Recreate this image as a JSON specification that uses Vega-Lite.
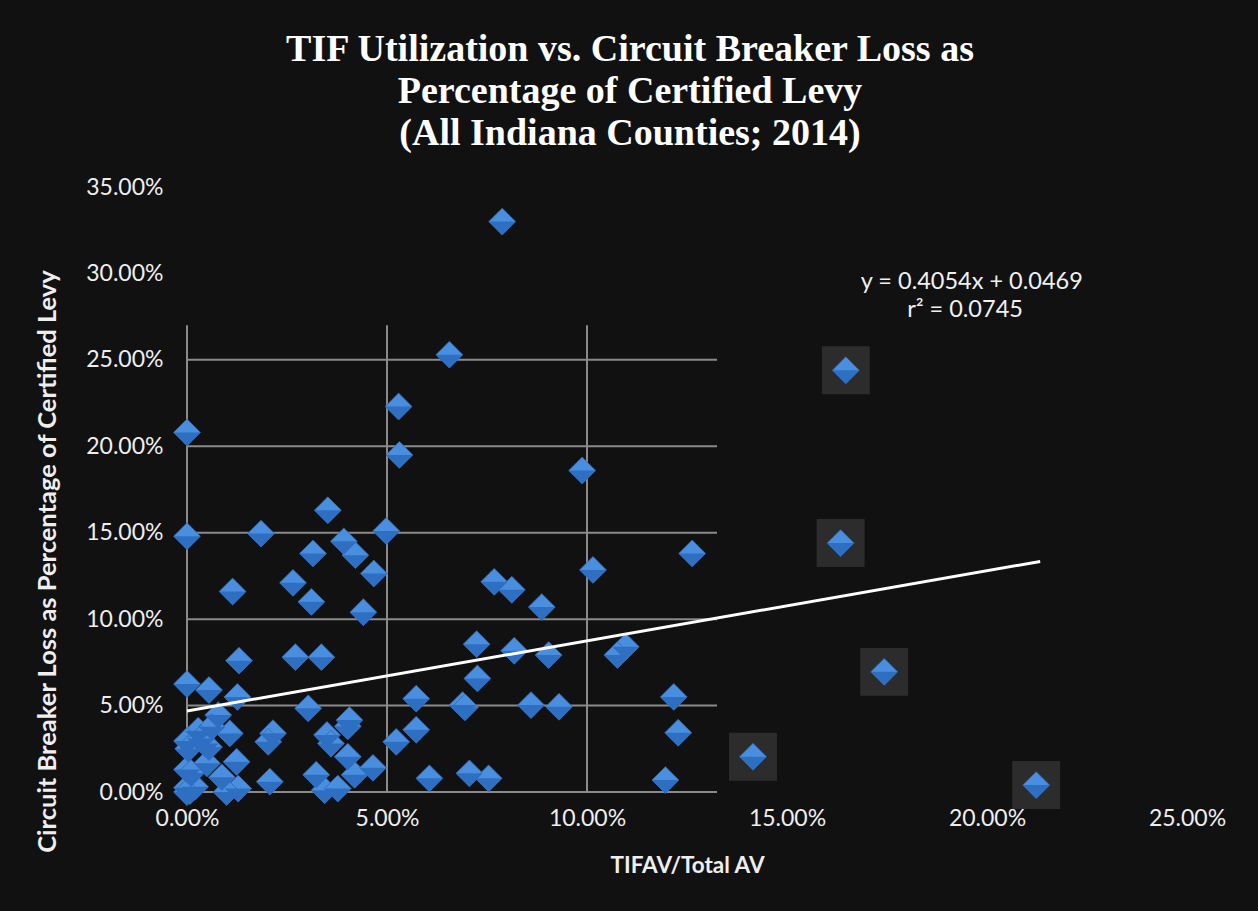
{
  "$schema": "https://vega.github.io/schema/vega-lite/v6.json",
  "width": 1000,
  "height": 605,
  "autosize": {"type": "none"},
  "padding": {"left": 187, "top": 187, "right": 71, "bottom": 119},
  "background": "#111111",
  "title": {
    "text": ["TIF Utilization vs.  Circuit Breaker Loss as", "Percentage of Certified Levy", "(All Indiana Counties; 2014)"],
    "font": "Liberation Serif",
    "fontSize": 38,
    "fontWeight": "bold",
    "color": "#ffffff",
    "lineHeight": 42,
    "anchor": "middle",
    "dx": -57,
    "offset": 23
  },
  "datasets": {
    "pts": [
      {"x": 0.0788, "y": 0.330}, {"x": 0.0656, "y": 0.253}, {"x": 0.0529, "y": 0.223}, {"x": 0.0531, "y": 0.195},
      {"x": 0, "y": 0.208}, {"x": 0.0988, "y": 0.186}, {"x": 0.1647, "y": 0.244}, {"x": 0.1634, "y": 0.144},
      {"x": 0.1743, "y": 0.0695}, {"x": 0.1415, "y": 0.0204}, {"x": 0.2123, "y": 0.004}, {"x": 0.1263, "y": 0.138},
      {"x": 0.0352, "y": 0.163}, {"x": 0, "y": 0.148}, {"x": 0.0185, "y": 0.1495}, {"x": 0.0498, "y": 0.151},
      {"x": 0.0392, "y": 0.145}, {"x": 0.0421, "y": 0.137}, {"x": 0.0315, "y": 0.138}, {"x": 0.0467, "y": 0.1264},
      {"x": 0.0265, "y": 0.121}, {"x": 0.0114, "y": 0.116}, {"x": 0.0311, "y": 0.110}, {"x": 0.0441, "y": 0.104},
      {"x": 0.013, "y": 0.076}, {"x": 0.0271, "y": 0.078}, {"x": 0.0336, "y": 0.078}, {"x": 0, "y": 0.0625},
      {"x": 0.0055, "y": 0.059}, {"x": 0.0126, "y": 0.055}, {"x": 0.0303, "y": 0.0484}, {"x": 0.0573, "y": 0.054},
      {"x": 0.0523, "y": 0.029}, {"x": 0.0573, "y": 0.036}, {"x": 0.0606, "y": 0.0079}, {"x": 0.0078, "y": 0.0445},
      {"x": 0.0028, "y": 0.0355}, {"x": 0.0062, "y": 0.0377}, {"x": 0.0107, "y": 0.0339}, {"x": 0.0215, "y": 0.034},
      {"x": 0.0203, "y": 0.029}, {"x": 0, "y": 0.0295}, {"x": 0.0003, "y": 0.025}, {"x": 0.0045, "y": 0.028},
      {"x": 0.005, "y": 0.0166}, {"x": 0.0124, "y": 0.0175}, {"x": 0, "y": 0.013}, {"x": 0.0087, "y": 0.0085},
      {"x": 0.0207, "y": 0.006}, {"x": 0, "y": 0.0025}, {"x": 0.0007, "y": 0.0005}, {"x": 0.0128, "y": 0.002},
      {"x": 0.0099, "y": 0}, {"x": 0.0323, "y": 0.010}, {"x": 0.0344, "y": 0.001}, {"x": 0.0377, "y": 0.002},
      {"x": 0.035, "y": 0.033}, {"x": 0.036, "y": 0.028}, {"x": 0.0402, "y": 0.038}, {"x": 0.0406, "y": 0.0416},
      {"x": 0.0402, "y": 0.0204}, {"x": 0.0419, "y": 0.010}, {"x": 0.0465, "y": 0.014}, {"x": 0.1015, "y": 0.1285},
      {"x": 0.0768, "y": 0.1216}, {"x": 0.0812, "y": 0.117}, {"x": 0.0887, "y": 0.107}, {"x": 0.0724, "y": 0.0855},
      {"x": 0.0818, "y": 0.0817}, {"x": 0.0904, "y": 0.0792}, {"x": 0.1097, "y": 0.084}, {"x": 0.1076, "y": 0.0792},
      {"x": 0.0726, "y": 0.0657}, {"x": 0.0689, "y": 0.0503}, {"x": 0.086, "y": 0.0503}, {"x": 0.093, "y": 0.0493},
      {"x": 0.1217, "y": 0.055}, {"x": 0.1228, "y": 0.0343}, {"x": 0.1196, "y": 0.0069}, {"x": 0.0706, "y": 0.0108},
      {"x": 0.0754, "y": 0.0079}, {"x": 0.0695, "y": 0.049}, {"x": 0.002, "y": 0.003}, {"x": 0.0055, "y": 0.026},
      {"x": 0, "y": 0}, {"x": 0.001, "y": 0.011}, {"x": 0.0035, "y": 0.031}
    ],
    "trend": [{"x": 0, "y": 0.0469}, {"x": 0.2133, "y": 0.1334}],
    "hgrid": [{"g": 0}, {"g": 0.05}, {"g": 0.10}, {"g": 0.15}, {"g": 0.20}, {"g": 0.25}],
    "vgrid": [{"g": 0}, {"g": 0.05}, {"g": 0.10}],
    "eq1": [{"label": "y = 0.4054x + 0.0469"}],
    "eq2": [{"label": "r² = 0.0745"}]
  },
  "config": {
    "view": {"stroke": null},
    "axis": {
      "grid": false, "domain": false, "ticks": false, "labelFlush": false,
      "labelFont": "Lato", "labelFontSize": 23, "labelColor": "#eeeeee",
      "titleFont": "Lato", "titleFontWeight": "bold", "titleColor": "#eeeeee"
    },
    "axisX": {"labelPadding": 15, "titleY": 73, "titleBaseline": "middle", "titleFontSize": 22.5},
    "axisY": {"labelPadding": 24, "titleX": -140, "titleY": 374, "titleAngle": -90, "titleAlign": "center", "titleBaseline": "middle", "titleFontSize": 25.5}
  },
  "layer": [
    {
      "mark": {"type": "rect", "fill": "#000000"},
      "encoding": {
        "x": {"datum": -0.0065, "type": "quantitative", "scale": {"domain": [0, 0.25], "nice": false, "zero": false}, "axis": {"values": [0, 0.05, 0.1, 0.15, 0.2, 0.25], "format": ".2%", "title": "TIFAV/Total AV"}},
        "x2": {"datum": 0.1325},
        "y": {"datum": -0.006, "type": "quantitative", "scale": {"domain": [0, 0.35], "nice": false, "zero": false}, "axis": {"values": [0, 0.05, 0.1, 0.15, 0.2, 0.25, 0.3, 0.35], "format": ".2%", "title": "Circuit Breaker Loss  as Percentage of Certified Levy"}},
        "y2": {"datum": 0.27}
      }
    },
    {
      "mark": {"type": "rect", "fill": "#404040"},
      "encoding": {
        "x": {"datum": 0, "type": "quantitative", "scale": {"domain": [0, 0.25], "nice": false, "zero": false}, "axis": {"values": [0, 0.05, 0.1, 0.15, 0.2, 0.25], "format": ".2%", "title": "TIFAV/Total AV"}},
        "x2": {"datum": 0.1325},
        "y": {"datum": -0.002, "type": "quantitative", "scale": {"domain": [0, 0.35], "nice": false, "zero": false}, "axis": {"values": [0, 0.05, 0.1, 0.15, 0.2, 0.25, 0.3, 0.35], "format": ".2%", "title": "Circuit Breaker Loss  as Percentage of Certified Levy"}},
        "y2": {"datum": 0.27}
      }
    },
    {
      "data": {"name": "hgrid"},
      "mark": {"type": "rule", "stroke": "#8a8a8a", "strokeWidth": 2},
      "encoding": {
        "y": {"field": "g", "type": "quantitative", "scale": {"domain": [0, 0.35], "nice": false, "zero": false}, "axis": {"values": [0, 0.05, 0.1, 0.15, 0.2, 0.25, 0.3, 0.35], "format": ".2%", "title": "Circuit Breaker Loss  as Percentage of Certified Levy"}},
        "x": {"datum": 0, "type": "quantitative", "scale": {"domain": [0, 0.25], "nice": false, "zero": false}, "axis": {"values": [0, 0.05, 0.1, 0.15, 0.2, 0.25], "format": ".2%", "title": "TIFAV/Total AV"}},
        "x2": {"datum": 0.1325}
      }
    },
    {
      "data": {"name": "vgrid"},
      "mark": {"type": "rule", "stroke": "#8a8a8a", "strokeWidth": 2},
      "encoding": {
        "x": {"field": "g", "type": "quantitative", "scale": {"domain": [0, 0.25], "nice": false, "zero": false}, "axis": {"values": [0, 0.05, 0.1, 0.15, 0.2, 0.25], "format": ".2%", "title": "TIFAV/Total AV"}},
        "y": {"datum": 0, "type": "quantitative", "scale": {"domain": [0, 0.35], "nice": false, "zero": false}, "axis": {"values": [0, 0.05, 0.1, 0.15, 0.2, 0.25, 0.3, 0.35], "format": ".2%", "title": "Circuit Breaker Loss  as Percentage of Certified Levy"}},
        "y2": {"datum": 0.27}
      }
    },
    {
      "data": {"name": "pts"},
      "transform": [{"filter": "datum.x > 0.1325"}],
      "mark": {"type": "square", "fill": "#2c2c2c", "opacity": 1, "size": 2300},
      "encoding": {
        "x": {"field": "x", "type": "quantitative", "scale": {"domain": [0, 0.25], "nice": false, "zero": false}, "axis": {"values": [0, 0.05, 0.1, 0.15, 0.2, 0.25], "format": ".2%", "title": "TIFAV/Total AV"}},
        "y": {"field": "y", "type": "quantitative", "scale": {"domain": [0, 0.35], "nice": false, "zero": false}, "axis": {"values": [0, 0.05, 0.1, 0.15, 0.2, 0.25, 0.3, 0.35], "format": ".2%", "title": "Circuit Breaker Loss  as Percentage of Certified Levy"}}
      }
    },
    {
      "data": {"name": "pts"},
      "mark": {"type": "point", "shape": "M0,-1L1,0L0,1L-1,0Z", "filled": true, "fill": "#4a8fdf", "stroke": "#2d67b0", "strokeWidth": 0.8, "opacity": 1, "size": 720},
      "encoding": {
        "x": {"field": "x", "type": "quantitative", "scale": {"domain": [0, 0.25], "nice": false, "zero": false}, "axis": {"values": [0, 0.05, 0.1, 0.15, 0.2, 0.25], "format": ".2%", "title": "TIFAV/Total AV"}},
        "y": {"field": "y", "type": "quantitative", "scale": {"domain": [0, 0.35], "nice": false, "zero": false}, "axis": {"values": [0, 0.05, 0.1, 0.15, 0.2, 0.25, 0.3, 0.35], "format": ".2%", "title": "Circuit Breaker Loss  as Percentage of Certified Levy"}}
      }
    },
    {
      "data": {"name": "pts"},
      "mark": {"type": "point", "shape": "M-1,0L1,0L0,1Z", "filled": true, "fill": "#2f6fc2", "strokeWidth": 0, "opacity": 1, "size": 720},
      "encoding": {
        "x": {"field": "x", "type": "quantitative", "scale": {"domain": [0, 0.25], "nice": false, "zero": false}, "axis": {"values": [0, 0.05, 0.1, 0.15, 0.2, 0.25], "format": ".2%", "title": "TIFAV/Total AV"}},
        "y": {"field": "y", "type": "quantitative", "scale": {"domain": [0, 0.35], "nice": false, "zero": false}, "axis": {"values": [0, 0.05, 0.1, 0.15, 0.2, 0.25, 0.3, 0.35], "format": ".2%", "title": "Circuit Breaker Loss  as Percentage of Certified Levy"}}
      }
    },
    {
      "data": {"name": "trend"},
      "mark": {"type": "line", "stroke": "#ffffff", "strokeWidth": 3},
      "encoding": {
        "x": {"field": "x", "type": "quantitative", "scale": {"domain": [0, 0.25], "nice": false, "zero": false}, "axis": {"values": [0, 0.05, 0.1, 0.15, 0.2, 0.25], "format": ".2%", "title": "TIFAV/Total AV"}},
        "y": {"field": "y", "type": "quantitative", "scale": {"domain": [0, 0.35], "nice": false, "zero": false}, "axis": {"values": [0, 0.05, 0.1, 0.15, 0.2, 0.25, 0.3, 0.35], "format": ".2%", "title": "Circuit Breaker Loss  as Percentage of Certified Levy"}}
      }
    },
    {
      "data": {"name": "eq1"},
      "mark": {"type": "text", "font": "Lato", "fontSize": 23.5, "fill": "#f0f0f0", "align": "center", "baseline": "middle"},
      "encoding": {
        "text": {"field": "label", "type": "nominal"},
        "x": {"datum": 0.1962, "type": "quantitative", "scale": {"domain": [0, 0.25], "nice": false, "zero": false}, "axis": {"values": [0, 0.05, 0.1, 0.15, 0.2, 0.25], "format": ".2%", "title": "TIFAV/Total AV"}},
        "y": {"datum": 0.295, "type": "quantitative", "scale": {"domain": [0, 0.35], "nice": false, "zero": false}, "axis": {"values": [0, 0.05, 0.1, 0.15, 0.2, 0.25, 0.3, 0.35], "format": ".2%", "title": "Circuit Breaker Loss  as Percentage of Certified Levy"}}
      }
    },
    {
      "data": {"name": "eq2"},
      "mark": {"type": "text", "font": "Lato", "fontSize": 23.5, "fill": "#f0f0f0", "align": "center", "baseline": "middle"},
      "encoding": {
        "text": {"field": "label", "type": "nominal"},
        "x": {"datum": 0.1945, "type": "quantitative", "scale": {"domain": [0, 0.25], "nice": false, "zero": false}, "axis": {"values": [0, 0.05, 0.1, 0.15, 0.2, 0.25], "format": ".2%", "title": "TIFAV/Total AV"}},
        "y": {"datum": 0.2788, "type": "quantitative", "scale": {"domain": [0, 0.35], "nice": false, "zero": false}, "axis": {"values": [0, 0.05, 0.1, 0.15, 0.2, 0.25, 0.3, 0.35], "format": ".2%", "title": "Circuit Breaker Loss  as Percentage of Certified Levy"}}
      }
    }
  ]
}
